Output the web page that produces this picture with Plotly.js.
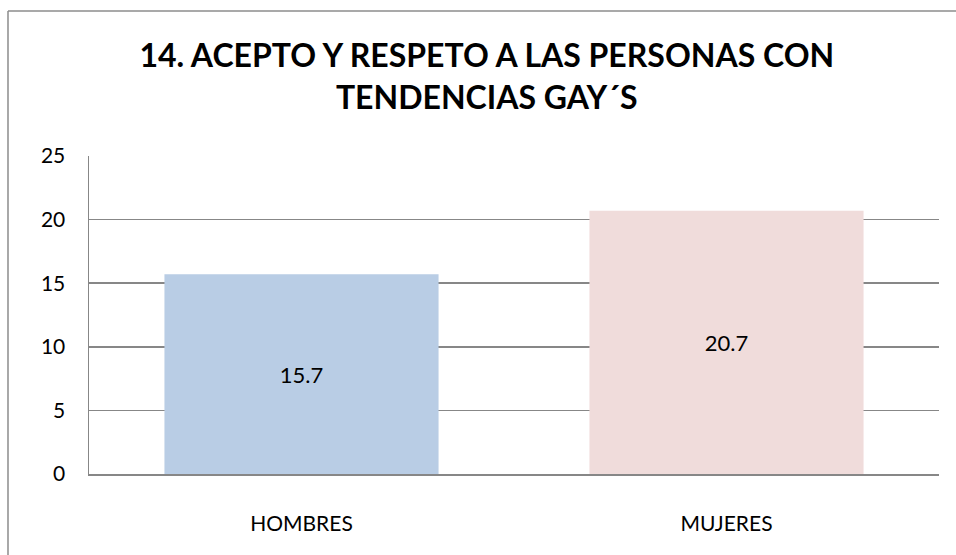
<!DOCTYPE html>
<html>
<head>
<meta charset="utf-8">
<script src="https://cdn.plot.ly/plotly-3.0.1.min.js"></script>
<style>html,body{margin:0;padding:0;background:#fff;}#chart{width:956px;height:555px;}</style>
</head>
<body>
<div id="chart"></div>
<script>
const categories = ["HOMBRES", "MUJERES"];
const values = [15.7, 20.7];
const barColors = ["#B9CDE5", "#F0DCDB"];
const yTicks = [0, 5, 10, 15, 20, 25];
const titleText = "14. ACEPTO Y RESPETO A LAS PERSONAS CON<br>TENDENCIAS GAY´S";

const font = "Lato, 'Open Sans', sans-serif";

const trace = {
  type: "bar",
  x: categories,
  y: values,
  marker: {color: barColors, line: {width: 0}},
  text: values.map(v => v.toFixed(1)),
  textposition: "inside",
  insidetextanchor: "middle",
  textangle: 0,
  textfont: {family: font, size: 22, color: "#000"},
  hoverinfo: "none"
};

const layout = {
  width: 956, height: 555,
  margin: {l: 89, r: 17, t: 156, b: 81},
  paper_bgcolor: "#fff", plot_bgcolor: "#fff",
  showlegend: false,
  bargap: 0.355,
  title: {
    text: "<b>" + titleText + "</b>",
    font: {family: font, size: 32, color: "#000"},
    x: 0.468, xanchor: "center", xref: "paper",
    y: 0.879, yanchor: "middle"
  },
  xaxis: {
    type: "category",
    showgrid: false, zeroline: false,
    showline: true, linecolor: "#878787", linewidth: 1.5,
    ticks: "", tickfont: {family: font, size: 21, color: "#000"},
    ticklabelstandoff: 30
  },
  yaxis: {
    range: [0, 25],
    tickvals: yTicks,
    showgrid: true, gridcolor: "#878787", gridwidth: 1.5,
    zeroline: false,
    showline: true, linecolor: "#878787", linewidth: 1.5,
    ticks: "", tickfont: {family: font, size: 21, color: "#000"},
    ticklabelstandoff: 18
  },
  shapes: [
    {type: "line", xref: "paper", yref: "paper", x0: -0.0953, x1: 1.1, y0: 1.456, y1: 1.456,
     line: {color: "#8c8c8c", width: 1.5}},
    {type: "line", xref: "paper", yref: "paper", x0: -0.0953, x1: -0.0953, y0: 1.456, y1: -0.3,
     line: {color: "#8c8c8c", width: 1.5}}
  ]
};

Plotly.newPlot("chart", [trace], layout, {staticPlot: true, displayModeBar: false});
</script>
</body>
</html>
